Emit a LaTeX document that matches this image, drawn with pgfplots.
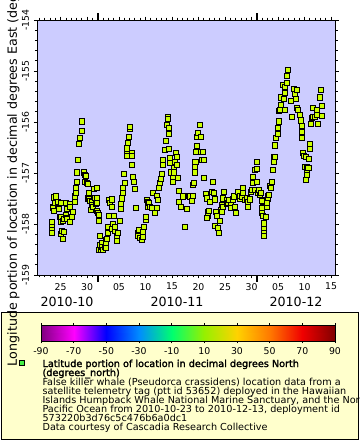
\documentclass[border=0pt]{standalone}
\usepackage{fontspec}
\setmainfont{DejaVu Sans}
\newfontfamily\fakebold[FakeBold=2]{DejaVu Sans}
\usepackage{pgfplots}
\pgfplotsset{compat=1.18}
\definecolor{plotbg}{HTML}{CCCCFF}
\definecolor{legbg}{HTML}{FFFFCC}
\definecolor{markfill}{HTML}{CCFF00}
\definecolor{legmark}{HTML}{44EE44}
\pgfplotstableread{
d lon
-8.62 -157.97
-8.62 -158.05
-8.62 -158.12
-8.62 -158.18
-8.49 -157.67
-8.30 -157.48
-8.43 -157.68
-8.19 -157.75
-8.06 -157.59
-7.87 -157.46
-7.49 -157.57
-7.36 -157.71
-7.06 -157.87
-6.92 -157.59
-6.92 -157.86
-6.87 -157.96
-6.87 -158.20
-6.74 -158.14
-6.55 -157.94
-6.55 -158.29
-6.42 -158.15
-6.30 -157.91
-6.04 -157.59
-6.04 -157.82
-5.85 -157.89
-5.79 -157.71
-5.79 -157.91
-5.28 -157.61
-5.28 -157.96
-5.17 -157.67
-4.91 -157.87
-4.72 -157.76
-4.60 -157.76
-4.34 -157.57
-4.28 -157.46
-4.15 -157.40
-4.09 -157.29
-3.91 -157.17
-3.91 -156.99
-3.77 -156.75
-3.53 -156.44
-3.34 -156.32
-3.02 -156.18
-3.02 -155.99
-2.64 -156.99
-2.45 -157.17
-2.40 -157.04
-2.21 -157.06
-1.96 -157.20
-1.89 -157.22
-1.89 -157.50
-1.70 -157.43
-1.58 -157.40
-1.58 -157.51
-1.45 -157.55
-1.26 -157.73
-1.08 -157.56
-1.08 -157.63
-0.83 -157.67
-0.64 -157.31
-0.57 -157.49
-0.38 -157.61
-0.19 -157.30
-0.19 -157.50
-0.19 -157.59
-0.19 -157.74
0.00 -157.79
0.19 -157.82
0.25 -157.94
0.30 -158.51
0.43 -158.24
0.43 -158.41
0.57 -158.51
0.75 -158.38
0.81 -158.45
0.94 -158.51
1.38 -158.45
1.51 -158.31
1.57 -158.46
1.57 -158.38
1.81 -158.30
1.89 -158.18
2.00 -158.05
2.19 -157.84
2.19 -157.53
2.32 -157.58
2.64 -158.10
2.70 -157.52
2.75 -157.66
2.94 -158.00
3.13 -157.84
3.21 -158.13
3.26 -158.05
3.70 -158.26
3.70 -158.33
3.89 -158.17
4.21 -157.94
4.40 -157.71
4.40 -157.61
4.53 -157.50
4.72 -157.40
4.83 -157.30
5.02 -157.02
5.15 -157.19
5.47 -156.61
5.47 -156.67
5.58 -156.52
5.66 -156.42
5.91 -156.29
6.09 -156.14
6.09 -156.09
6.42 -156.61
6.53 -156.66
6.42 -156.84
6.60 -157.07
6.91 -157.17
7.04 -157.32
7.23 -157.69
7.66 -158.18
7.66 -158.24
7.85 -158.12
7.98 -158.27
8.30 -158.31
8.49 -158.25
8.60 -158.15
8.74 -158.05
9.06 -157.92
9.11 -157.86
9.25 -157.53
9.43 -157.66
9.43 -157.56
9.68 -157.59
9.81 -157.66
10.15 -157.69
10.49 -157.40
10.81 -157.78
11.09 -157.69
11.25 -157.45
11.38 -157.53
11.51 -157.29
11.70 -157.20
12.00 -157.12
12.13 -157.02
12.32 -156.84
12.32 -156.75
12.64 -156.55
12.89 -156.37
13.08 -156.06
13.26 -155.90
13.26 -155.95
13.40 -156.12
13.45 -156.24
13.45 -156.53
13.58 -156.71
13.70 -156.81
13.89 -156.99
14.21 -157.10
14.21 -157.17
14.40 -156.91
14.40 -156.99
14.53 -156.78
14.83 -156.61
14.96 -156.68
14.96 -156.84
15.15 -157.10
15.34 -157.35
15.34 -157.56
15.77 -157.66
16.09 -157.46
16.47 -158.05
16.85 -157.71
17.17 -157.45
17.42 -157.46
17.70 -157.54
17.94 -157.45
18.04 -157.24
18.17 -157.19
18.32 -156.99
18.40 -156.88
18.43 -156.78
18.60 -156.58
18.79 -156.47
18.74 -156.29
18.92 -156.22
19.25 -156.05
19.55 -156.29
19.55 -156.58
19.74 -156.75
19.87 -156.58
20.06 -156.74
19.96 -157.09
20.43 -157.42
20.53 -157.50
20.87 -157.76
20.87 -157.84
21.06 -157.75
20.68 -157.89
21.19 -157.56
21.51 -157.37
21.70 -157.17
21.98 -157.39
22.13 -157.52
22.38 -157.77
22.45 -157.84
23.00 -157.94
22.13 -158.04
22.70 -158.07
22.89 -158.17
23.21 -157.73
23.40 -157.63
23.40 -157.76
23.70 -157.66
23.79 -157.37
23.70 -157.50
24.34 -157.53
24.34 -157.61
24.64 -157.58
24.83 -157.53
25.11 -157.63
25.09 -157.69
26.06 -157.78
25.47 -157.52
25.72 -157.46
25.91 -157.66
26.38 -157.37
26.75 -157.50
26.85 -157.45
27.36 -157.29
27.17 -157.46
27.47 -157.40
27.79 -157.53
28.11 -157.50
28.30 -157.66
28.42 -157.56
28.74 -157.52
28.92 -157.37
29.06 -157.33
29.25 -157.08
29.36 -157.19
29.68 -156.94
30.00 -156.78
30.00 -156.93
30.00 -157.17
29.68 -157.33
30.30 -157.39
30.43 -157.33
30.62 -157.43
30.81 -157.40
30.94 -157.53
31.06 -157.54
31.13 -157.66
30.94 -157.68
30.94 -157.79
31.25 -157.84
31.75 -157.87
31.38 -157.99
31.38 -158.09
31.38 -158.17
31.38 -158.24
32.08 -157.46
32.19 -157.50
32.32 -157.43
31.89 -157.66
32.00 -157.58
32.51 -157.25
32.70 -157.29
32.83 -157.18
33.02 -156.94
33.26 -156.78
33.32 -156.68
33.45 -156.68
33.45 -156.46
33.64 -156.31
33.92 -156.23
33.96 -156.11
34.17 -155.99
34.26 -155.78
34.40 -155.76
34.53 -155.67
34.64 -155.52
34.96 -155.28
35.21 -155.55
35.34 -155.44
35.34 -155.32
35.34 -155.76
35.66 -155.23
35.66 -155.09
35.85 -154.98
36.42 -155.58
36.60 -155.90
37.08 -155.36
37.23 -155.45
37.42 -155.55
37.55 -155.73
37.55 -155.37
37.85 -155.76
38.17 -155.86
38.36 -155.97
38.55 -156.08
38.60 -156.19
38.60 -156.32
38.79 -156.60
38.98 -156.67
39.25 -156.68
39.11 -156.88
39.43 -156.88
39.74 -156.91
39.43 -157.01
39.21 -157.13
39.55 -157.04
39.81 -156.73
40.06 -156.44
40.06 -156.53
40.25 -156.03
40.38 -155.93
40.68 -155.90
40.68 -155.73
41.00 -155.90
41.32 -155.76
41.32 -155.86
41.51 -156.04
41.94 -155.52
42.13 -155.37
42.26 -155.68
42.26 -155.88
}\whaledata

\begin{document}
\begin{tikzpicture}
\path[use as bounding box, clip] (0pt,0pt) rectangle (270pt,-330pt);
\fill[white] (0pt,0pt) rectangle (270pt,-330pt);
\begin{scope}[x=0.75pt,y=-0.75pt]
\draw[line width=0.75pt, fill=legbg] (1,312) rectangle (358.5,439);
\end{scope}

\begin{axis}[
  at={(27.975pt,-206.25pt)}, anchor=south west,
  width=223.5pt, height=191.25pt, scale only axis,
  xmin=-11.4, xmax=44.8, ymin=-159, ymax=-154,
  axis background/.style={fill=plotbg},
  axis line style={line width=0.75pt},
  tick align=outside,
  xtick={-7,-2,4,9,14,19,24,29,34,39,44},
  xticklabels={25,30,05,10,15,20,25,30,05,10,15},
  minor xtick={-11,...,44},
  extra x ticks={0,30}, extra x tick labels={},
  extra x tick style={major tick length=5pt, tick style={line width=1.2pt}},
  ytick={-159,-158,-157,-156,-155,-154},
  yticklabels={-159,-158,-157,-156,-155,-154},
  minor y tick num=4,
  major tick length=2.6pt, minor tick length=1.8pt,
  tick style={black, line width=0.6pt},
  ticklabel style={font=\fontsize{7}{8}\selectfont},
  yticklabel style={rotate=90, anchor=south},
  xticklabel style={anchor=north},
]
\addplot[only marks, mark=square*, mark size=1.9pt,
  mark options={fill=markfill, draw=black, line width=0.75pt}]
  table[x=d, y=lon] {\whaledata};
\end{axis}

\begin{axis}[
  at={(30.75pt,-255.75pt)}, anchor=south west,
  width=220.5pt, height=12pt, scale only axis,
  view={0}{90},
  xmin=-90, xmax=90, ymin=0, ymax=1,
  xtick={-90,-70,-50,-30,-10,10,30,50,70,90},
  xticklabels={-90,-70,-50,-30,-10,10,30,50,70,90},
  ytick=\empty, ztick=\empty,
  tick align=outside, major tick length=1.5pt,
  tick style={black, line width=0.5pt},
  axis line style={line width=0.5pt},
  xticklabel style={font=\fontsize{7}{8}\selectfont, anchor=north},
  colormap={erd}{rgb255=(128,0,128) rgb255=(255,0,255) rgb255=(0,0,255) rgb255=(0,140,255) rgb255=(0,255,110) rgb255=(150,240,0) rgb255=(255,210,0) rgb255=(255,120,0) rgb255=(240,0,0) rgb255=(128,0,0)},
  point meta min=-90, point meta max=90,
]
\addplot3[surf, shader=interp, mesh/cols=10, point meta=x] coordinates {
(-90,0,0) (-70,0,0) (-50,0,0) (-30,0,0) (-10,0,0) (10,0,0) (30,0,0) (50,0,0) (70,0,0) (90,0,0)
(-90,1,0) (-70,1,0) (-50,1,0) (-30,1,0) (-10,1,0) (10,1,0) (30,1,0) (50,1,0) (70,1,0) (90,1,0)
};
\end{axis}

\begin{scope}[x=0.75pt,y=-0.75pt]
\node[font=\fontsize{9.5}{11}\selectfont] at (67,302) {2010-10};
\node[font=\fontsize{9.5}{11}\selectfont] at (177,302) {2010-11};
\node[font=\fontsize{9.5}{11}\selectfont] at (296,302) {2010-12};
\node[rotate=90, font=\fontsize{9.5}{11}\selectfont, inner sep=0pt] at (13.5,147.5) {Longitude portion of location in decimal degrees East (degrees\_east)};
\draw[fill=legmark, line width=0.75pt] (19.5,360.7) rectangle (24.3,365.3);
\begin{scope}[every node/.style={anchor=base west, inner sep=0pt, font=\fontsize{7.25}{8}\selectfont}]
\node at (42.3,367) {\fakebold Latitude portion of location in decimal degrees North};
\node at (42.3,376) {\fakebold (degrees\_north)};
\node at (42.3,385) {False killer whale (Pseudorca crassidens) location data from a};
\node at (42.3,394) {satellite telemetry tag (ptt id 53652) deployed in the Hawaiian};
\node at (42.3,403) {Islands Humpback Whale National Marine Sanctuary, and the North};
\node at (42.3,412) {Pacific Ocean from 2010-10-23 to 2010-12-13, deployment id};
\node at (42.3,421) {573220b3d76c5c476b6a0dc1};
\node at (42.3,430) {Data courtesy of Cascadia Research Collective};
\end{scope}
\end{scope}
\end{tikzpicture}
\end{document}
